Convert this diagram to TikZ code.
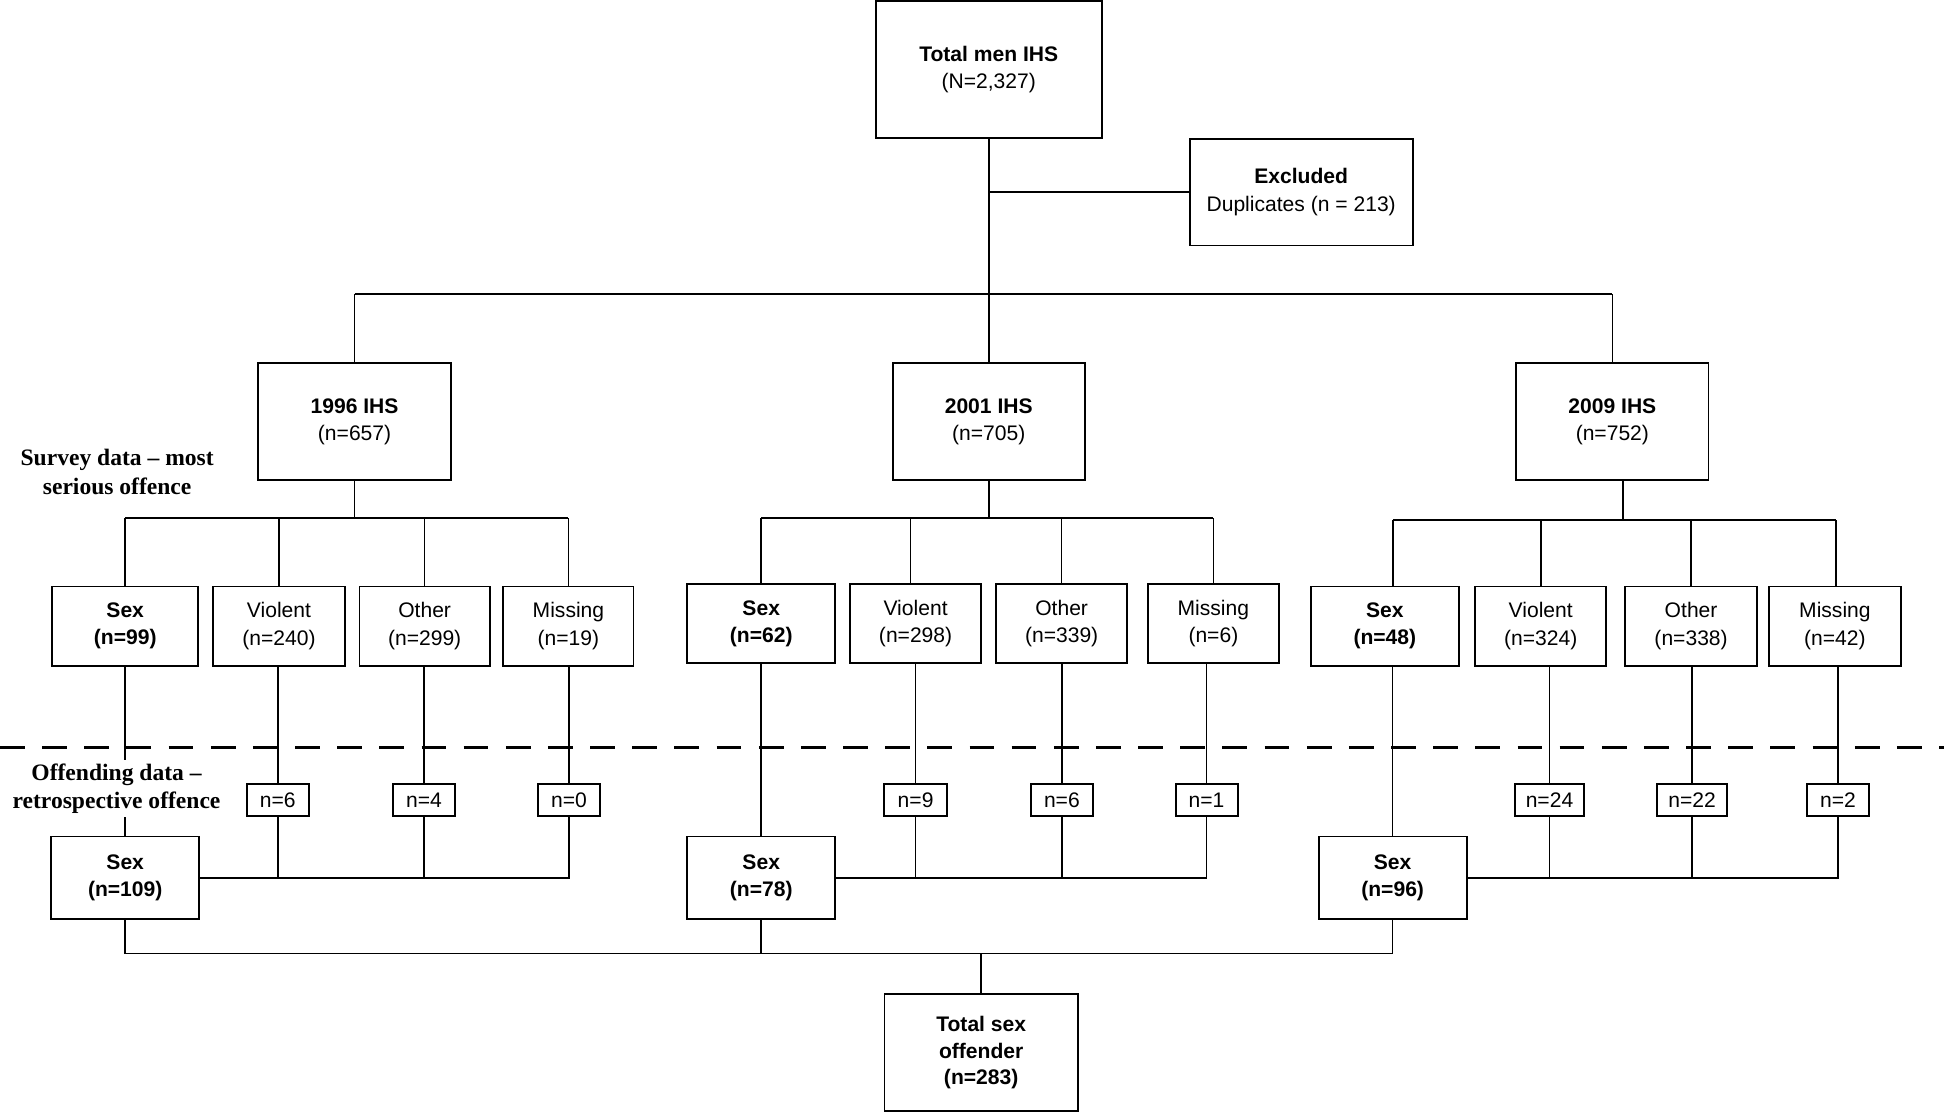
\documentclass[tikz,border=0pt]{standalone}
\usepackage{fontspec}
\newfontfamily\lsans{Liberation Sans}
\newfontfamily\lserif[Ligatures=TeX]{Liberation Serif}
\begin{document}
\begin{tikzpicture}[x=1pt,y=-1pt,
  bx/.style={draw, line width=1.5pt, inner sep=0pt, align=center, font=\lsans\fontsize{17}{22}\selectfont},
  catbox/.style={bx, minimum width=106, minimum height=64},
  sexbox/.style={bx, minimum width=119.5, minimum height=64, font=\lsans\bfseries\fontsize{17}{22}\selectfont},
  nbox/.style={bx, minimum width=50, minimum height=26},
  ln/.style={line width=1.3pt},
  lab/.style={font=\lserif\bfseries\fontsize{19}{23}\selectfont, align=center}]
\useasboundingbox (0,0) rectangle (1568,897);

% top
\node[bx, minimum width=182, minimum height=110] (total) at (797.5,56) {\bfseries Total men IHS\\(N=2,327)};
\node[bx, minimum width=180, minimum height=86] (excl) at (1049.5,155) {\bfseries Excluded\\Duplicates (n = 213)};

\node[bx, minimum width=156, minimum height=94] (y1) at (286,340) {\bfseries 1996 IHS\\(n=657)};
\node[bx, minimum width=155, minimum height=94] (y2) at (797.5,340) {\bfseries 2001 IHS\\(n=705)};
\node[bx, minimum width=155, minimum height=94] (y3) at (1300.5,340) {\bfseries 2009 IHS\\(n=752)};

% categories
\node[sexbox, minimum width=118] (a1) at (101,505) {Sex\\(n=99)};
\node[catbox] (a2) at (225,505) {Violent\\(n=240)};
\node[catbox, minimum width=105] (a3) at (342.5,505) {Other\\(n=299)};
\node[catbox, minimum width=105] (a4) at (458.5,505) {Missing\\(n=19)};

\node[sexbox] (b1) at (614,503) {Sex\\(n=62)};
\node[catbox] (b2) at (738.5,503) {Violent\\(n=298)};
\node[catbox] (b3) at (856.3,503) {Other\\(n=339)};
\node[catbox] (b4) at (978.7,503) {Missing\\(n=6)};

\node[sexbox] (c1) at (1117,505) {Sex\\(n=48)};
\node[catbox] (c2) at (1242.7,505) {Violent\\(n=324)};
\node[catbox] (c3) at (1364,505) {Other\\(n=338)};
\node[catbox] (c4) at (1480,505) {Missing\\(n=42)};

% n boxes
\node[nbox] (na2) at (224,645.5) {n=6};
\node[nbox] (na3) at (342,645.5) {n=4};
\node[nbox] (na4) at (459,645.5) {n=0};
\node[nbox, minimum width=51] (nb2) at (738.5,645.5) {n=9};
\node[nbox] (nb3) at (856.5,645.5) {n=6};
\node[nbox] (nb4) at (973.2,645.5) {n=1};
\node[nbox, minimum width=56] (nc2) at (1249.8,645.5) {n=24};
\node[nbox, minimum width=56] (nc3) at (1364.8,645.5) {n=22};
\node[nbox] (nc4) at (1482.5,645.5) {n=2};

% sex 2
\node[sexbox, minimum height=66.5] (sa) at (101,708) {Sex\\(n=109)};
\node[sexbox, minimum height=66.5] (sb) at (614,708) {Sex\\(n=78)};
\node[sexbox, minimum height=66.5] (sc) at (1123.3,708) {Sex\\(n=96)};

\node[bx, minimum width=156, minimum height=94, font=\lsans\bfseries\fontsize{17}{21.5}\selectfont] (tot2) at (791.4,849) {Total sex\\offender\\(n=283)};

% bus coordinates
\coordinate (busT) at (0,237);
\coordinate (busA) at (0,418);
\coordinate (busB) at (0,418);
\coordinate (busC) at (0,419.5);
\coordinate (busF) at (0,769);
\coordinate (dl) at (0,603);
\coordinate (dr) at (1568,603);

% top connectors
\draw[ln] (total.south) -- (total.south |- busT);
\draw[ln] (total.south |- excl.west) -- (excl.west);
\draw[ln] (y1.north |- busT) -- (y3.north |- busT);
\draw[ln] (y1.north) -- (y1.north |- busT);
\draw[ln] (y2.north) -- (y2.north |- busT);
\draw[ln] (y3.north) -- (y3.north |- busT);

% group A
\draw[ln] (y1.south) -- (y1.south |- busA);
\draw[ln] (a1.north |- busA) -- (a4.north |- busA);
\foreach \n in {a1,a2,a3,a4} \draw[ln] (\n.north) -- (\n.north |- busA);

% group B
\draw[ln] (y2.south) -- (y2.south |- busB);
\draw[ln] (b1.north |- busB) -- (b4.north |- busB);
\draw[ln] (b1.north) -- (b1.north |- busB);
\draw[ln] ([xshift=-4]b2.north) -- ([xshift=-4]b2.north |- busB);
\draw[ln] (b3.north) -- (b3.north |- busB);
\draw[ln] (b4.north) -- (b4.north |- busB);

% group C
\draw[ln] ([xshift=8.5]y3.south) -- ([xshift=8.5]y3.south |- busC);
\draw[ln] ([xshift=6.5]c1.north |- busC) -- ([xshift=1]c4.north |- busC);
\draw[ln] ([xshift=6.5]c1.north) -- ([xshift=6.5]c1.north |- busC);
\draw[ln] (c2.north) -- (c2.north |- busC);
\draw[ln] (c3.north) -- (c3.north |- busC);
\draw[ln] ([xshift=1]c4.north) -- ([xshift=1]c4.north |- busC);

% lower stems
\draw[ln] (a1.south) -- (sa.north);
\draw[ln] (b1.south) -- (sb.north);
\draw[ln] (sc.north) -- (sc.north |- c1.south);
\draw[ln] (na2.north) -- (na2.north |- a2.south);
\draw[ln] (na3.north) -- (na3.north |- a3.south);
\draw[ln] (na4.north) -- (na4.north |- a4.south);
\draw[ln] (nb2.north) -- (nb2.north |- b2.south);
\draw[ln] (nb3.north) -- (nb3.north |- b3.south);
\draw[ln] (nb4.north) -- (nb4.north |- b4.south);
\draw[ln] (nc2.north) -- (nc2.north |- c2.south);
\draw[ln] (nc3.north) -- (nc3.north |- c3.south);
\draw[ln] (nc4.north) -- (nc4.north |- c4.south);

% lower buses
\draw[ln] (sa.east) -- (na4.south |- sa.east) -- (na4.south);
\draw[ln] (na2.south) -- (na2.south |- sa.east);
\draw[ln] (na3.south) -- (na3.south |- sa.east);
\draw[ln] (sb.east) -- (nb4.south |- sb.east) -- (nb4.south);
\draw[ln] (nb2.south) -- (nb2.south |- sb.east);
\draw[ln] (nb3.south) -- (nb3.south |- sb.east);
\draw[ln] (sc.east) -- (nc4.south |- sc.east) -- (nc4.south);
\draw[ln] (nc2.south) -- (nc2.south |- sc.east);
\draw[ln] (nc3.south) -- (nc3.south |- sc.east);

% bottom
\draw[ln] (sa.south) -- (sa.south |- busF) -- (sc.south |- busF) -- (sc.south);
\draw[ln] (sb.south) -- (sb.south |- busF);
\draw[ln] (tot2.north) -- (tot2.north |- busF);

% dashed divider
\draw[line width=2pt, dash pattern=on 20pt off 14pt] (dl) -- (dr);

% labels
\node[lab] (survey) at (94.5,380.5) {Survey data – most\\serious offence};
\node[lab, fill=white, inner sep=3pt] (offend) at (94,636) {Offending data –\\retrospective offence};
\end{tikzpicture}
\end{document}
